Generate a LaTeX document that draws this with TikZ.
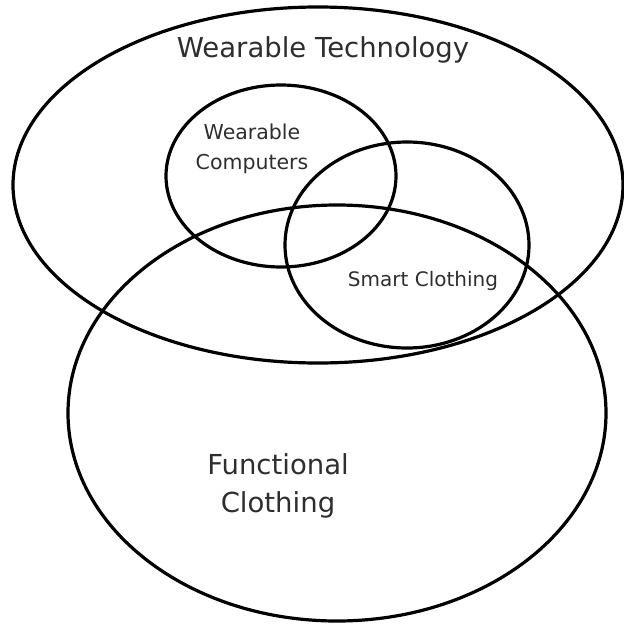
\documentclass[tikz,border=0pt]{standalone}
\usepackage{fontspec}
\setmainfont{DejaVu Sans}
\definecolor{txt}{HTML}{2E2E2E}
\begin{document}
\begin{tikzpicture}[x=1pt,y=-1pt,
  ring/.style={draw=black,line width=3.2pt},
  lbl/.style={text=txt,align=center,inner sep=0pt}]
\useasboundingbox (0,0) rectangle (624,627);
\draw[ring] (318,185) ellipse [x radius=305,y radius=178];
\draw[ring] (337,413) ellipse [x radius=269,y radius=208];
\draw[ring] (281,176) ellipse [x radius=115,y radius=91];
\draw[ring] (407,245) ellipse [x radius=122,y radius=103];
\node[lbl,font=\fontsize{27.5}{32}\selectfont] (wt) at (323,50) {Wearable Technology};
\node[lbl,font=\fontsize{20.5}{30}\selectfont] (wc) at (252,149) {Wearable\\Computers};
\node[lbl,font=\fontsize{20}{22}\selectfont] (sc) at (423,281) {Smart Clothing};
\node[lbl,font=\fontsize{27.5}{38}\selectfont] (fc) at (278,486) {Functional\\Clothing};
\end{tikzpicture}
\end{document}
